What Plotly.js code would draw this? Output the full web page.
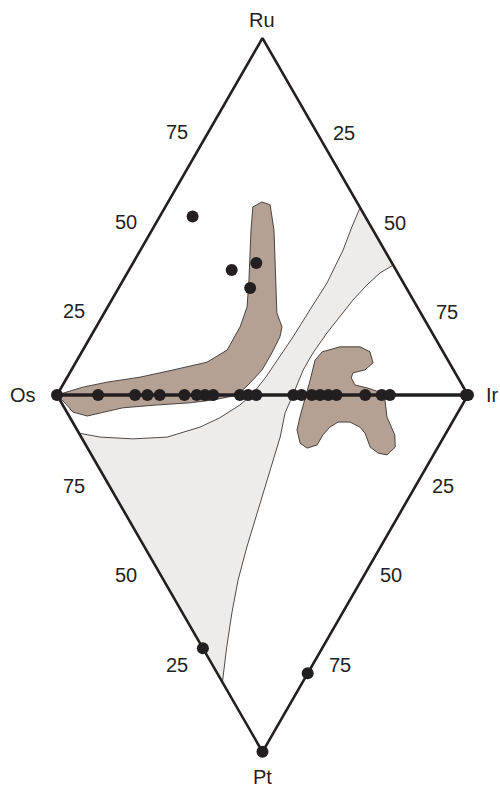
<!DOCTYPE html>
<html>
<head>
<meta charset="utf-8">
<script src="https://cdn.plot.ly/plotly-3.0.1.min.js"></script>
<style>
  html, body { margin: 0; padding: 0; background: #ffffff; }
  #plot { width: 500px; height: 787px; }
</style>
</head>
<body>
<div id="plot"></div>
<script>
// Double ternary Os–Ru–Ir / Os–Pt–Ir diagram.
// All compositions are in at.%; Os is the remainder (100 - Ir - Ru - Pt).
// Points above the Os–Ir join carry Ru, points below carry Pt.

// Analysed grains
const sampleIr = [8, 25, 30, 32,
  0, 10, 19, 22, 25, 31, 34, 36, 38, 44.5, 46.5, 48.5,
  57.5, 59.5, 62, 64, 66, 68, 75, 79, 81, 99.5, 100,
  0, 22, 0];
const sampleRu = [50, 35, 37, 30,
  0, 0, 0, 0, 0, 0, 0, 0, 0, 0, 0, 0,
  0, 0, 0, 0, 0, 0, 0, 0, 0, 0, 0,
  0, 0, 0];
const samplePt = [0, 0, 0, 0,
  0, 0, 0, 0, 0, 0, 0, 0, 0, 0, 0, 0,
  0, 0, 0, 0, 0, 0, 0, 0, 0, 0, 0,
  71, 78, 100];

// Os-rich (hcp) alloy field
const osFieldIr = [0, 5.2, 10.4, 17.7, 24.7, 31.9, 35.1, 35.0, 33.9, 30.6, 24.1, 21.3, 22.8, 25.2,
  29.7, 37.2, 42.0, 45.2, 46.1, 46.4, 46.4, 45.3, 44.0,
  37.3, 31.2, 22.9, 14.2, 4.4, 1.5, 0.8];
const osFieldRu = [0, 2.2, 3.6, 5.0, 7.0, 9.2, 12.6, 19.1, 24.7, 32.2, 46.2, 52.7, 54.1, 53.3,
  46.2, 32.2, 23.0, 19.1, 16.3, 11.8, 7.0, 3.4, 0,
  0, 0, 0, 0, 0, 0, 0];
const osFieldPt = [0, 0, 0, 0, 0, 0, 0, 0, 0, 0, 0, 0, 0, 0,
  0, 0, 0, 0, 0, 0, 0, 0, 0,
  1.4, 2.2, 2.8, 3.6, 5.9, 4.8, 2.2];

// Ir-rich (fcc) alloy field
const irFieldIr = [58.5, 62.1, 67.0, 70.1, 72.4, 71.4, 68.9, 69.2, 71.1, 74.4, 78.2,
  79.1, 77.2, 76.6, 75.0, 71.9, 70.0, 68.9, 69.6, 69.2, 67.5, 64.6, 61.9, 59.1, 56.3,
  53.4, 52.4, 53.5, 56.0, 59.6, 59.5, 57.9];
const irFieldRu = [12.1, 13.5, 13.5, 12.1, 9.0, 7.0, 6.2, 4.8, 2.8, 2.0, 0.8,
  0, 0, 0, 0, 0, 0, 0, 0, 0, 0, 0, 0, 0, 0,
  0, 0, 0, 0, 0, 4.2, 9.8];
const irFieldPt = [0, 0, 0, 0, 0, 0, 0, 0, 0, 0, 0,
  1.4, 6.2, 11.2, 14.6, 16.8, 16.3, 14.6, 10.7, 9.0, 7.6, 7.6, 9.0, 11.2, 14.0,
  14.9, 13.5, 9.8, 6.2, 1.4, 0, 0];

// Miscibility gap
const gapIr = [47.5, 63.6, 61.5, 60.0, 58.7, 57.9, 57.0, 56.4, 56.4, 57.4,
  53.0, 48.4, 39.2, 32.1, 24.9, 18.1, 12.0, 6.0, 0, 0,
  4.6, 12.3, 20.9, 30.3, 36.4, 43.1, 47.4,
  48.3, 48.9, 49.3, 49.6, 50.0, 49.3, 48.2];
const gapRu = [52.5, 36.4, 34.2, 30.8, 26.6, 21.9, 17.4, 11.8, 7.0, 0,
  0, 0, 0, 0, 0, 0, 0, 0, 0, 0,
  0, 0, 0, 0, 0, 0, 0,
  5.0, 10.7, 16.3, 23.8, 31.4, 40.6, 47.1];
const gapPt = [0, 0, 0, 0, 0, 0, 0, 0, 0, 0,
  5.0, 11.8, 23.8, 33.1, 42.6, 51.9, 61.1, 70.6, 80.5, 10.7,
  11.8, 12.3, 11.8, 9.0, 6.4, 2.8, 0,
  0, 0, 0, 0, 0, 0, 0];

// Corner compositions (Ir, Ru, Pt)
const cornerNames = ['Os', 'Ru', 'Ir', 'Pt'];
const cornerIr = [0, 0, 100, 0];
const cornerRu = [0, 100, 0, 0];
const cornerPt = [0, 0, 0, 100];

const tickValues = [25, 50, 75];

const INK = '#231f20';
const FONT = 'Liberation Sans, Arial, Helvetica, sans-serif';
const H = Math.sqrt(3) / 2;

// Ru plots upward from the Os–Ir join, Pt downward.
function toX(ir, ru, pt) { return ir + (ru + pt) / 2; }
function toY(ir, ru, pt) { return (ru - pt) * H; }
function project(irs, rus, pts) {
  return {
    x: irs.map((v, i) => toX(v, rus[i], pts[i])),
    y: irs.map((v, i) => toY(v, rus[i], pts[i]))
  };
}

function field(irs, rus, pts, color) {
  const p = project(irs, rus, pts);
  return {
    type: 'scatter', mode: 'lines',
    x: p.x.concat([p.x[0]]), y: p.y.concat([p.y[0]]),
    fill: 'toself', fillcolor: color,
    line: { color: INK, width: 0.8 },
    hoverinfo: 'skip', showlegend: false
  };
}

const c = project(cornerIr, cornerRu, cornerPt);
// Os -> Ru -> Ir -> Pt -> Os
const outlineOrder = [0, 1, 2, 3, 0];
const outline = {
  type: 'scatter', mode: 'lines',
  x: outlineOrder.map(i => c.x[i]), y: outlineOrder.map(i => c.y[i]),
  line: { color: INK, width: 2.6 },
  hoverinfo: 'skip', showlegend: false
};
const join = {
  type: 'scatter', mode: 'lines',
  x: [c.x[0], c.x[2]], y: [c.y[0], c.y[2]],
  line: { color: INK, width: 3.6 },
  hoverinfo: 'skip', showlegend: false
};

const s = project(sampleIr, sampleRu, samplePt);
const samples = {
  type: 'scatter', mode: 'markers',
  x: s.x, y: s.y,
  marker: { size: 12, color: INK, line: { width: 0 } },
  hoverinfo: 'skip', showlegend: false
};

const traces = [
  field(gapIr, gapRu, gapPt, '#efebe8'),
  field(osFieldIr, osFieldRu, osFieldPt, '#b5a193'),
  field(irFieldIr, irFieldRu, irFieldPt, '#b5a193'),
  outline, join, samples
];

const annotations = [];
function label(text, ir, ru, pt, dx, dy) {
  annotations.push({
    x: toX(ir, ru, pt), y: toY(ir, ru, pt), xref: 'x', yref: 'y',
    text: text, showarrow: false, xshift: dx, yshift: dy,
    font: { family: FONT, size: 20, color: INK }
  });
}

// corner labels
const cornerShift = [[-34, 0], [0, 18], [25, 0], [0, -25]];
cornerNames.forEach((n, i) => label(n, cornerIr[i], cornerRu[i], cornerPt[i], cornerShift[i][0], cornerShift[i][1]));

// edge ticks
tickValues.forEach(v => {
  label(String(v), 0, v, 0, -34, -5);          // Os–Ru edge: Ru
  label(String(v), v, 100 - v, 0, 30, -6);     // Ru–Ir edge: Ir
  label(String(v), 0, 0, 100 - v, -34, -2);    // Os–Pt edge: Os
  label(String(v), 100 - v, 0, v, 26, -2);     // Pt–Ir edge: Pt
});

const hidden = { visible: false, showgrid: false, zeroline: false, fixedrange: true };
const layout = {
  width: 500, height: 787,
  margin: { l: 0, r: 0, t: 0, b: 0 },
  paper_bgcolor: '#ffffff', plot_bgcolor: '#ffffff',
  xaxis: Object.assign({ range: [-13.87, 107.79] }, hidden),
  yaxis: Object.assign({ range: [-95.15, 95.87] }, hidden),
  annotations: annotations,
  showlegend: false
};

Plotly.newPlot('plot', traces, layout, { staticPlot: true, displayModeBar: false });
</script>
</body>
</html>
